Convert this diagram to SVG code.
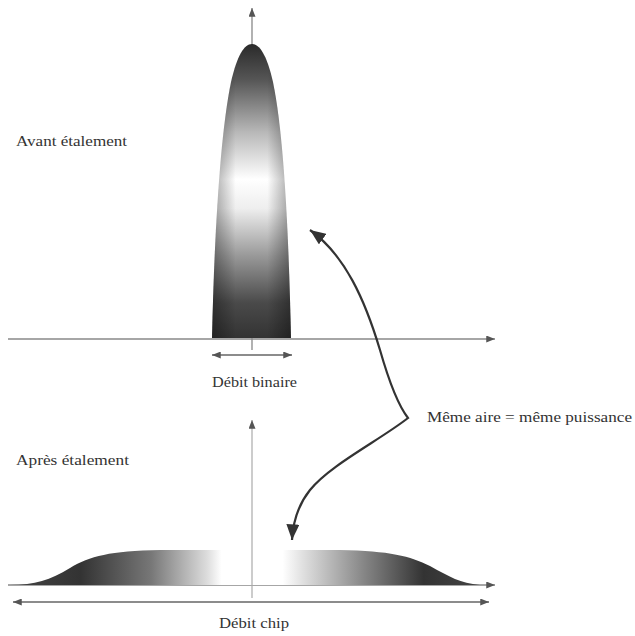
<svg xmlns="http://www.w3.org/2000/svg" width="635" height="636" viewBox="0 0 635 636">
<style>
.t{font-family:"Liberation Serif","Times New Roman",serif;font-size:15.5px;fill:#333}
.ax{stroke:#888;stroke-width:1.3;fill:none}
.dim{stroke:#666;stroke-width:1.3;fill:none}
.cur{stroke:#333;stroke-width:2.2;fill:none}
</style>
<defs>
<marker id="ah" viewBox="0 0 10 8" refX="10" refY="4" markerUnits="userSpaceOnUse" markerWidth="9" markerHeight="7" orient="auto-start-reverse"><path d="M0,0 L10,4 L0,8 Z" fill="#555"/></marker>
<marker id="big" viewBox="0 0 12 10" refX="12" refY="5" markerUnits="userSpaceOnUse" markerWidth="16" markerHeight="13" orient="auto-start-reverse"><path d="M0,0 L12,5 L0,10 Z" fill="#333"/></marker>
<linearGradient id="gv" gradientUnits="userSpaceOnUse" x1="0" y1="44" x2="0" y2="338">
<stop offset="0" stop-color="#2a2a2a"/>
<stop offset="0.12" stop-color="#555"/>
<stop offset="0.3" stop-color="#b8b8b8"/>
<stop offset="0.46" stop-color="#fff"/>
<stop offset="0.56" stop-color="#eee"/>
<stop offset="0.72" stop-color="#999"/>
<stop offset="0.88" stop-color="#4a4a4a"/>
<stop offset="1" stop-color="#333"/>
</linearGradient>
<linearGradient id="gh" gradientUnits="userSpaceOnUse" x1="212" y1="0" x2="291" y2="0">
<stop offset="0" stop-color="#000" stop-opacity="0.35"/>
<stop offset="0.3" stop-color="#000" stop-opacity="0"/>
<stop offset="0.7" stop-color="#000" stop-opacity="0"/>
<stop offset="1" stop-color="#000" stop-opacity="0.35"/>
</linearGradient>
<linearGradient id="gb" gradientUnits="userSpaceOnUse" x1="10" y1="0" x2="480" y2="0">
<stop offset="0" stop-color="#444"/>
<stop offset="0.15" stop-color="#333"/>
<stop offset="0.3" stop-color="#777"/>
<stop offset="0.42" stop-color="#ddd"/>
<stop offset="0.45" stop-color="#fff"/>
<stop offset="0.58" stop-color="#fff"/>
<stop offset="0.62" stop-color="#e2e2e2"/>
<stop offset="0.75" stop-color="#888"/>
<stop offset="0.88" stop-color="#333"/>
<stop offset="1" stop-color="#444"/>
</linearGradient>
</defs>

<g id="connectors">
<line class="ax" x1="252" y1="350" x2="252" y2="8" marker-end="url(#ah)"/>
<line class="ax" x1="8" y1="339" x2="495" y2="339" marker-end="url(#ah)"/>
<line class="ax" x1="8" y1="585" x2="495" y2="585" marker-end="url(#ah)"/>
<line class="dim" x1="212" y1="355" x2="292" y2="355" marker-start="url(#ah)" marker-end="url(#ah)"/>
<line class="dim" x1="13" y1="602" x2="489" y2="602" marker-start="url(#ah)" marker-end="url(#ah)"/>
</g>

<g id="peak">
<path d="M212,338 C214,250 219,140 231,82 C237,56 244,44 252,44 C260,44 267,56 273,82 C285,140 289,250 291,338 Z" fill="url(#gv)"/>
<path d="M212,338 C214,250 219,140 231,82 C237,56 244,44 252,44 C260,44 267,56 273,82 C285,140 289,250 291,338 Z" fill="url(#gh)"/>
</g>

<g id="spread">
<path d="M10,585 C35,585 50,580 70,568 C90,556 110,551 160,550 L340,550 C390,551 410,556 430,566 C450,577 460,583 480,585 Z" fill="url(#gb)"/>
<line x1="252" y1="598" x2="252" y2="420" stroke="#aaa" stroke-width="1.2" marker-end="url(#ah)"/>
</g>

<g id="curve">
<path class="cur" d="M310,230 C345,255 365,300 380,350 C390,385 398,405 408,418 C380,440 330,465 310,490 C298,505 293,522 292,540" marker-start="url(#big)" marker-end="url(#big)"/>
</g>

<g id="labels">
<text class="t" x="16" y="146" textLength="111" lengthAdjust="spacingAndGlyphs">Avant étalement</text>
<text class="t" x="16" y="465" textLength="113" lengthAdjust="spacingAndGlyphs">Après étalement</text>
<text class="t" x="212" y="387" textLength="85" lengthAdjust="spacingAndGlyphs">Débit binaire</text>
<text class="t" x="219" y="628" textLength="70" lengthAdjust="spacingAndGlyphs">Débit chip</text>
<text class="t" x="427" y="422" textLength="205" lengthAdjust="spacingAndGlyphs">Même aire = même puissance</text>
</g>
</svg>
